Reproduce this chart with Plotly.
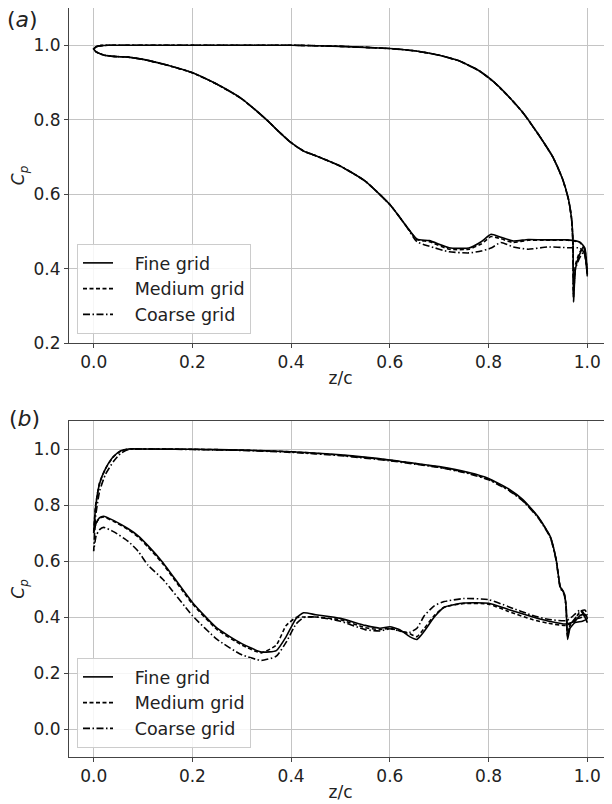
import plotly.graph_objects as go

# ---------------- Panel (a) ----------------
xa_pres = [0.0, 0.005, 0.015, 0.03, 0.1, 0.2, 0.3, 0.4, 0.5, 0.6, 0.65, 0.7, 0.74, 0.78, 0.81, 0.84,
           0.87, 0.9, 0.93, 0.95, 0.962, 0.968, 0.971, 0.972, 0.976, 0.985, 0.993, 1.0]
fine_a_pres = [0.99, 0.996, 0.999, 1.0, 1.0, 1.0, 1.0, 1.0, 0.997, 0.991, 0.985, 0.973, 0.958, 0.932, 0.902, 0.863,
               0.818, 0.762, 0.70, 0.64, 0.585, 0.535, 0.47, 0.31, 0.40, 0.44, 0.46, 0.38]
med_a_pres = [0.99, 0.996, 0.999, 1.0, 1.0, 1.0, 1.0, 1.0, 0.997, 0.991, 0.985, 0.973, 0.958, 0.932, 0.902, 0.863,
              0.818, 0.762, 0.70, 0.64, 0.585, 0.535, 0.47, 0.32, 0.41, 0.445, 0.455, 0.385]
coarse_a_pres = [0.99, 0.996, 0.999, 1.0, 1.0, 1.0, 1.0, 1.0, 0.997, 0.991, 0.985, 0.973, 0.958, 0.932, 0.902, 0.863,
                 0.818, 0.762, 0.70, 0.64, 0.585, 0.535, 0.46, 0.33, 0.40, 0.43, 0.445, 0.39]

xa_suc = [0.0, 0.005, 0.02, 0.04, 0.07, 0.1, 0.15, 0.2, 0.25, 0.3, 0.35, 0.375, 0.4, 0.425, 0.45, 0.5, 0.55,
          0.6, 0.63, 0.655, 0.68, 0.72, 0.76, 0.785, 0.805, 0.825, 0.85, 0.88, 0.92, 0.96, 0.985, 0.995, 1.0]
fine_a_suc = [0.99, 0.982, 0.974, 0.97, 0.968, 0.962, 0.946, 0.926, 0.895, 0.856, 0.80, 0.768, 0.738, 0.716,
              0.703, 0.675, 0.635, 0.572, 0.52, 0.479, 0.475, 0.456, 0.455, 0.472, 0.492, 0.484, 0.474, 0.478,
              0.477, 0.477, 0.471, 0.455, 0.38]
med_a_suc = [0.99, 0.982, 0.974, 0.97, 0.968, 0.962, 0.946, 0.926, 0.895, 0.856, 0.80, 0.768, 0.738, 0.716,
             0.703, 0.675, 0.635, 0.572, 0.52, 0.478, 0.472, 0.452, 0.452, 0.466, 0.486, 0.48, 0.47, 0.476,
             0.476, 0.476, 0.47, 0.45, 0.385]
coarse_a_suc = [0.99, 0.982, 0.974, 0.97, 0.968, 0.962, 0.946, 0.926, 0.895, 0.856, 0.80, 0.768, 0.738, 0.716,
                0.703, 0.675, 0.635, 0.572, 0.52, 0.472, 0.46, 0.445, 0.442, 0.447, 0.455, 0.47, 0.458, 0.452,
                0.458, 0.456, 0.455, 0.44, 0.39]

# ---------------- Panel (b) ----------------
xb_pres = [0.0, 0.004, 0.012, 0.024, 0.04, 0.055, 0.071, 0.1, 0.2, 0.3, 0.4, 0.5, 0.6, 0.65, 0.7, 0.76, 0.8,
           0.84, 0.87, 0.9, 0.925, 0.937, 0.945, 0.953, 0.957, 0.96, 0.965, 0.975, 0.99, 1.0]
fine_b_pres = [0.70, 0.794, 0.877, 0.93, 0.973, 0.994, 1.0, 1.0, 0.999, 0.996, 0.99, 0.979, 0.961, 0.949, 0.937,
               0.916, 0.895, 0.858, 0.818, 0.759, 0.687, 0.604, 0.509, 0.485, 0.438, 0.32, 0.36, 0.38, 0.385, 0.395]
med_b_pres = [0.705, 0.80, 0.88, 0.93, 0.972, 0.993, 1.0, 1.0, 0.999, 0.996, 0.99, 0.978, 0.96, 0.948, 0.935,
              0.914, 0.892, 0.855, 0.815, 0.757, 0.686, 0.605, 0.51, 0.485, 0.44, 0.33, 0.37, 0.39, 0.40, 0.41]
coarse_b_pres = [0.635, 0.76, 0.85, 0.91, 0.955, 0.985, 0.998, 1.0, 0.998, 0.995, 0.988, 0.976, 0.958, 0.946, 0.934,
                 0.912, 0.89, 0.853, 0.813, 0.755, 0.684, 0.60, 0.505, 0.48, 0.435, 0.34, 0.37, 0.395, 0.42, 0.38]

xb_suc = [0.0, 0.005, 0.012, 0.02, 0.04, 0.07, 0.09, 0.11, 0.14, 0.2, 0.25, 0.3, 0.34, 0.37, 0.39, 0.41, 0.425,
          0.45, 0.5, 0.55, 0.58, 0.6, 0.62, 0.64, 0.655, 0.67, 0.69, 0.71, 0.75, 0.8, 0.84, 0.89, 0.92, 0.958,
          0.975, 0.985, 0.995, 1.0]
fine_b_suc = [0.70, 0.735, 0.755, 0.76, 0.745, 0.715, 0.69, 0.655, 0.595, 0.452, 0.36, 0.305, 0.275, 0.28, 0.33,
              0.395, 0.415, 0.408, 0.395, 0.37, 0.36, 0.365, 0.355, 0.33, 0.32, 0.35, 0.40, 0.435, 0.45, 0.449,
              0.427, 0.40, 0.386, 0.375, 0.385, 0.405, 0.41, 0.395]
med_b_suc = [0.705, 0.735, 0.753, 0.757, 0.742, 0.712, 0.686, 0.65, 0.59, 0.447, 0.355, 0.30, 0.272, 0.30, 0.37,
             0.398, 0.40, 0.40, 0.39, 0.362, 0.355, 0.36, 0.35, 0.34, 0.33, 0.36, 0.405, 0.435, 0.448, 0.446,
             0.42, 0.39, 0.378, 0.37, 0.39, 0.42, 0.425, 0.41]
coarse_b_suc = [0.635, 0.69, 0.712, 0.72, 0.705, 0.67, 0.635, 0.585, 0.535, 0.405, 0.32, 0.265, 0.245, 0.26, 0.31,
                0.375, 0.398, 0.40, 0.385, 0.355, 0.35, 0.358, 0.35, 0.345, 0.36, 0.405, 0.44, 0.455, 0.466, 0.462,
                0.437, 0.405, 0.392, 0.387, 0.41, 0.425, 0.40, 0.38]

series_names = ["Fine grid", "Medium grid", "Coarse grid"]
dashes = ["solid", "4px,2.5px", "7px,2.5px,1.5px,2.5px"]
x_ticks = [0.0, 0.2, 0.4, 0.6, 0.8, 1.0]
ya_ticks = [0.2, 0.4, 0.6, 0.8, 1.0]
yb_ticks = [0.0, 0.2, 0.4, 0.6, 0.8, 1.0]


def loop(xs, ys, xp, yp):
    return list(reversed(xs)) + list(xp), list(reversed(ys)) + list(yp)


PAD = "\u00a0\u00a0\u00a0"  # gap between legend sample line and label

fig = go.Figure()
panel_a = [(fine_a_suc, fine_a_pres), (med_a_suc, med_a_pres), (coarse_a_suc, coarse_a_pres)]
panel_b = [(fine_b_suc, fine_b_pres), (med_b_suc, med_b_pres), (coarse_b_suc, coarse_b_pres)]

for i, (ys, yp) in enumerate(panel_a):
    x, y = loop(xa_suc, ys, xa_pres, yp)
    fig.add_trace(go.Scatter(x=x, y=y, mode="lines", name=PAD + series_names[i],
                             line=dict(color="black", width=1.6, dash=dashes[i], shape="spline", smoothing=0.5),
                             xaxis="x", yaxis="y", legend="legend", legendgroup="a%d" % i))
for i, (ys, yp) in enumerate(panel_b):
    x, y = loop(xb_suc, ys, xb_pres, yp)
    fig.add_trace(go.Scatter(x=x, y=y, mode="lines", name=PAD + series_names[i],
                             line=dict(color="black", width=1.6, dash=dashes[i], shape="spline", smoothing=0.5),
                             xaxis="x2", yaxis="y2", legend="legend2", legendgroup="b%d" % i))

axis_common = dict(showgrid=True, gridcolor="#c4c4c4", gridwidth=1, showline=True, linecolor="#444444",
                   linewidth=1, mirror=True, ticks="outside", ticklen=4, tickcolor="#444444",
                   tickfont=dict(family="DejaVu Sans", size=17, color="#222222"), zeroline=False,
                   automargin=False)

# The page body has an 8px margin, so the figure is drawn 8px right/down of the window corner.
OFF = 8
FW, FH = 612 - OFF, 804 - OFF
ML, MT, MB = 69 - OFF, 0, 47
pw, ph = FW - ML, FH - MT - MB


def py(page_y):
    return 1 - (page_y - OFF - MT) / ph


def px(page_x):
    return (page_x - OFF - ML) / pw


legend_common = dict(xanchor="left", yanchor="bottom", bgcolor="rgba(255,255,255,0.85)",
                     bordercolor="#cccccc", borderwidth=1, font=dict(size=17.5, family="DejaVu Sans"),
                     traceorder="grouped", tracegroupgap=0)

fig.update_layout(
    width=FW, height=FH,
    margin=dict(l=ML, r=0, t=MT, b=MB),
    paper_bgcolor="white", plot_bgcolor="white",
    font=dict(family="DejaVu Sans", color="#222222"),
    xaxis=dict(domain=[0, 1], anchor="y", range=[-0.05, 1.05], tickvals=x_ticks, tickformat=".1f",
               title=dict(text="z/c", font=dict(size=17), standoff=0), **axis_common),
    yaxis=dict(domain=[py(343), 1.0], anchor="x", range=[0.2, 1.1], tickvals=ya_ticks, tickformat=".1f",
               title=dict(text="<i>C<sub>p</sub></i>", font=dict(size=17), standoff=8), **axis_common),
    xaxis2=dict(domain=[0, 1], anchor="y2", range=[-0.05, 1.05], tickvals=x_ticks, tickformat=".1f",
                title=dict(text="z/c", font=dict(size=17), standoff=0), **axis_common),
    yaxis2=dict(domain=[0.0, py(421)], anchor="x2", range=[-0.1, 1.1], tickvals=yb_ticks, tickformat=".1f",
                title=dict(text="<i>C<sub>p</sub></i>", font=dict(size=17), standoff=8), **axis_common),
    legend=dict(x=px(77), y=py(334), **legend_common),
    legend2=dict(x=px(77), y=py(748), **legend_common),
    showlegend=True,
)

fig.add_annotation(text="(<i>a</i>)", x=px(22), y=py(20), xref="paper", yref="paper",
                   showarrow=False, xanchor="center", yanchor="middle", font=dict(size=22, family="DejaVu Sans"))
fig.add_annotation(text="(<i>b</i>)", x=px(24), y=py(418), xref="paper", yref="paper",
                   showarrow=False, xanchor="center", yanchor="middle", font=dict(size=22, family="DejaVu Sans"))

fig.write_html("out.html")
